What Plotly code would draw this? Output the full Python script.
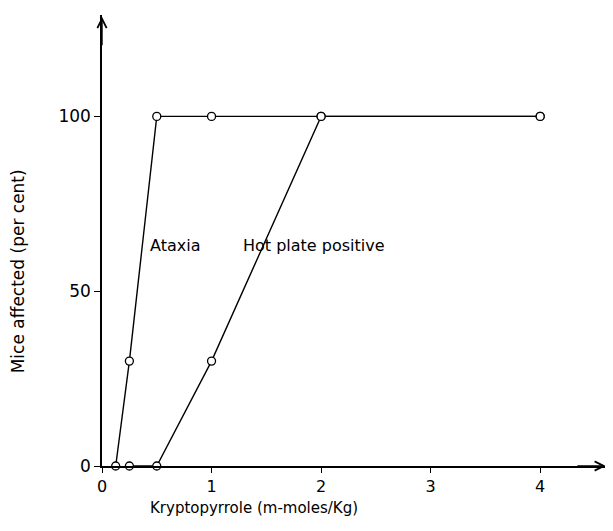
import plotly.graph_objects as go

ataxia_x = [0.125, 0.25, 0.5, 1, 2, 4]
ataxia_y = [0, 30, 100, 100, 100, 100]
hot_x = [0.25, 0.5, 1, 2, 4]
hot_y = [0, 0, 30, 100, 100]
x_ticks = [0, 1, 2, 3, 4]
y_ticks = [0, 50, 100]

FONT = "DejaVu Sans"
mk = dict(symbol="circle", size=8, color="white", line=dict(color="black", width=1.3))

fig = go.Figure()
fig.add_trace(go.Scatter(x=hot_x, y=hot_y, mode="lines+markers", line=dict(color="black", width=1.4),
                         marker=mk, cliponaxis=False, name="Hot plate positive"))
fig.add_trace(go.Scatter(x=ataxia_x, y=ataxia_y, mode="lines+markers", line=dict(color="black", width=1.4),
                         marker=mk, cliponaxis=False, name="Ataxia"))

fig.add_annotation(x=0.42, y=63, text="Ataxia", showarrow=False, xanchor="left", yanchor="middle",
                   font=dict(family=FONT, size=16, color="black"))
fig.add_annotation(x=1.27, y=63, text="Hot plate positive", showarrow=False, xanchor="left", yanchor="middle",
                   font=dict(family=FONT, size=16, color="black"))
# axis titles
fig.add_annotation(x=0.301, y=-0.093, xref="paper", yref="paper", text="Kryptopyrrole (m-moles/Kg)",
                   showarrow=False, xanchor="center", yanchor="middle", font=dict(family=FONT, size=15))
fig.add_annotation(x=-0.166, y=0.432, xref="paper", yref="paper", text="Mice affected (per cent)",
                   showarrow=False, xanchor="center", yanchor="middle", textangle=-90,
                   font=dict(family=FONT, size=17))
# axis arrows
fig.add_annotation(x=4.6, y=0, ax=-30, ay=0, xref="x", yref="y", text="", showarrow=True,
                   arrowhead=5, arrowsize=1.3, arrowwidth=1.4, arrowcolor="black")
fig.add_annotation(x=0, y=128.5, ax=0, ay=30, xref="x", yref="y", text="", showarrow=True,
                   arrowhead=5, arrowsize=1.3, arrowwidth=1.4, arrowcolor="black")

fig.update_layout(
    width=605, height=523,
    margin=dict(l=94, r=6, t=7, b=65),
    paper_bgcolor="white", plot_bgcolor="white",
    showlegend=False,
    font=dict(family=FONT, size=15, color="black"),
    xaxis=dict(range=[0, 4.61], tickvals=x_ticks, ticktext=[str(v) for v in x_ticks], automargin=False,
               showgrid=False, zeroline=False, showline=True, linecolor="black", linewidth=1.5,
               ticks="outside", ticklen=5, tickcolor="black", tickfont=dict(size=16)),
    yaxis=dict(range=[0, 129], tickvals=y_ticks, ticktext=[str(v) for v in y_ticks], automargin=False,
               showgrid=False, zeroline=False, showline=True, linecolor="black", linewidth=1.5,
               ticks="outside", ticklen=6, tickcolor="black", tickfont=dict(size=17)),
)
fig.write_html("out.html")
